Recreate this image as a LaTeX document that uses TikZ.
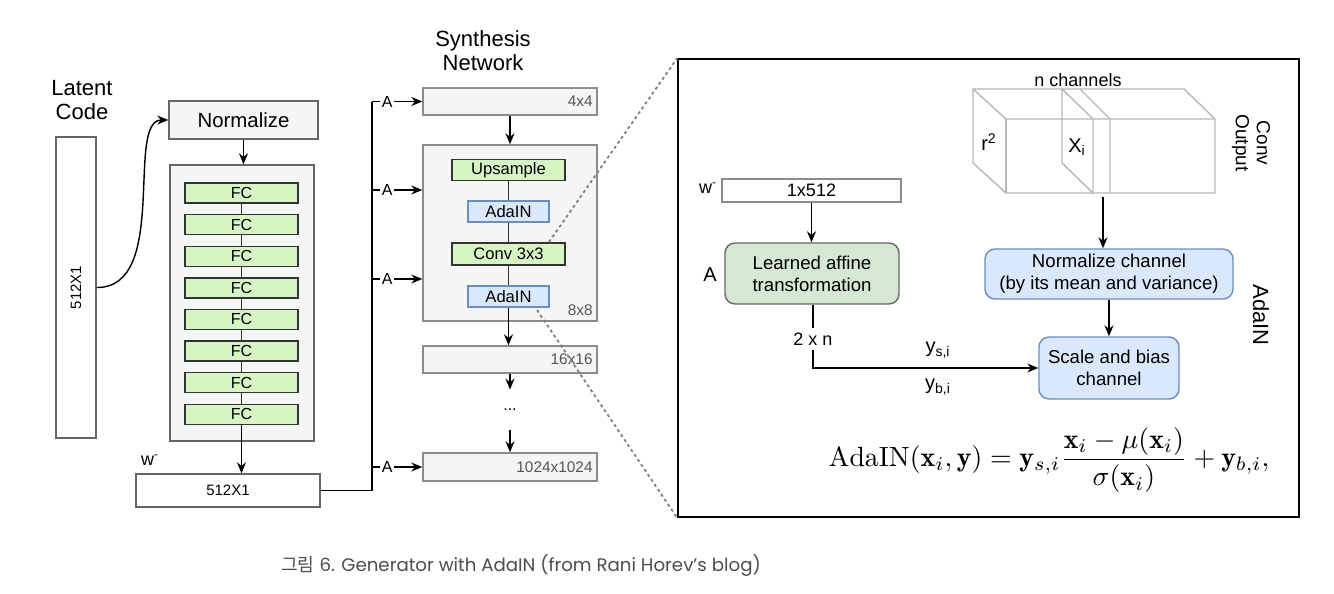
\documentclass[tikz,border=0pt]{standalone}
\usepackage{amsmath,amssymb}
\usepackage{fontspec}
\setsansfont{Liberation Sans}
\newfontfamily\capfont{Poppins}
\newfontfamily\cjk{Noto Sans CJK KR}
\usetikzlibrary{arrows.meta,positioning}
\definecolor{boxgray}{HTML}{F5F5F5}
\definecolor{linegray}{HTML}{666666}
\definecolor{synline}{HTML}{8C8C8C}
\definecolor{darkline}{HTML}{333333}
\definecolor{fcgreen}{HTML}{D5F5C4}
\definecolor{adablue}{HTML}{DAE8FC}
\definecolor{adaline}{HTML}{6C8EBF}
\definecolor{affgreen}{HTML}{D5E8D4}
\definecolor{labelgray}{HTML}{555555}
\definecolor{cubegray}{HTML}{B8B8B8}
\definecolor{capgray}{HTML}{4D4D4D}
\newcommand{\fsz}[2]{\fontsize{#1}{#2}\selectfont}

\begin{document}
\begin{tikzpicture}[x=0.5pt, y=-0.5pt, >={Stealth[length=5.5pt,width=4.5pt]},
  every node/.style={font=\sffamily},
  conn/.style={line width=0.7pt},
  graybox/.style={draw=linegray, fill=boxgray, line width=0.7pt, inner sep=0pt},
  whitebox/.style={draw=linegray, fill=white, line width=0.7pt, inner sep=0pt},
  synbox/.style={draw=synline, fill=boxgray, line width=0.7pt, minimum width=87pt, inner sep=0pt},
  fcbox/.style={draw=darkline, fill=fcgreen, line width=0.7pt, minimum width=56.5pt, minimum height=10pt, inner sep=0pt, font=\sffamily\fsz{8}{9}},
  adabox/.style={draw=adaline, fill=adablue, line width=0.7pt, minimum width=40.5pt, minimum height=10.5pt, inner sep=0pt, font=\sffamily\fsz{8.3}{9}},
  sizelbl/.style={anchor=east, text=labelgray, inner sep=0pt, font=\sffamily\fsz{7.7}{9}},
  alabel/.style={fill=white, inner sep=1pt, font=\sffamily\fsz{8}{9}},
  title/.style={align=center, font=\sffamily\fsz{11}{12}},
  roundbox/.style={line width=0.7pt, rounded corners=5pt, inner sep=0pt, align=center, font=\sffamily\fsz{9.3}{11}},
  zoomline/.style={draw=gray, line width=0.9pt, dash pattern=on 1.5pt off 1.5pt},
  cube/.style={draw=cubegray, line width=0.7pt}]
  \fill[white] (0,0) rectangle (1334,594);
  \useasboundingbox (0,0) rectangle (1334,594);

  % mapping network
  \node[title] (latenttitle) at (82,100) {Latent\\Code};
  \node[whitebox, minimum width=20pt, minimum height=150.5pt] (latent) at (76,287.5) {};
  \node[rotate=90, font=\sffamily\fsz{7.5}{9}] (latenttext) at (latent.center) {512X1};
  \node[graybox, minimum width=74.5pt, minimum height=19pt, font=\sffamily\fsz{10.2}{12}] (norm) at (243.5,120) {Normalize};
  \node[graybox, minimum width=72pt, minimum height=138pt] (mapping) at (242,303) {};
  \foreach \i in {1,...,8}
    \node[fcbox] (fc\i) at (241.5,{161.4+31.6*\i}) {FC};
  \foreach \i [evaluate=\i as \j using int(\i+1)] in {1,...,7}
    \draw[conn, darkline] (fc\i) -- (fc\j);
  \draw[conn, ->] (latent.east) .. controls (170,288) and (125,120) .. (norm.west);
  \draw[conn, ->] (norm.south) -- (norm.south |- mapping.north);
  \node[font=\sffamily\fsz{9}{10}] (wlabel) at (150,460) {w\textsuperscript{-}};
  \node[whitebox, minimum width=92pt, minimum height=16.5pt, font=\sffamily\fsz{7.5}{9}] (wvec) at (228,490.5) {512X1};
  \draw[conn, ->] (fc8.south) -- (fc8.south |- wvec.north);

  % synthesis network
  \node[title] (syntitle) at (483,51) {Synthesis\\Network};
  \node[synbox, minimum height=13.5pt] (s4) at (510,101.5) {};
  \node[synbox, minimum height=88pt] (s8) at (510,233) {};
  \node[synbox, minimum height=13.5pt] (s16) at (510,359.5) {};
  \node[synbox, minimum height=14pt] (s1024) at (510,467) {};
  \node[sizelbl] (l4) at (593,101.5) {4x4};
  \node[sizelbl] (l8) at (593,310) {8x8};
  \node[sizelbl] (l16) at (593,359.5) {16x16};
  \node[sizelbl] (l1024) at (593,467) {1024x1024};
  \node[fcbox, font=\sffamily\fsz{8.3}{9}, minimum height=10.5pt] (up) at (508.5,170) {Upsample};
  \node[adabox] (ada1) at (508.5,211.5) {AdaIN};
  \node[fcbox, font=\sffamily\fsz{8.3}{9}, minimum height=11pt] (conv) at (508.5,254) {Conv 3x3};
  \node[adabox] (ada2) at (508.5,296.5) {AdaIN};
  \draw[conn, darkline] (up) -- (ada1) (ada1) -- (conv) (conv) -- (ada2);
  \draw[conn, ->] (s4.south) -- (s4.south |- s8.north);
  \draw[conn, ->] (ada2.south) -- (ada2.south |- s16.north);
  \node[minimum height=20pt, inner sep=0pt, font=\sffamily\fsz{8}{9}] (dots) at (510,410) {...};
  \draw[conn, ->] (s16.south) -- (dots.north);
  \draw[conn, ->] (dots.south) -- (s1024.north);

  % style vector bus
  \coordinate (bus4) at (372,101.5);
  \coordinate (bus8a) at (372,190);
  \coordinate (bus8b) at (372,279);
  \coordinate (bus1024) at (372,467);
  \coordinate (busend) at (372,490.5);
  \draw[conn] (wvec.east) -- (busend) -- (bus4);
  \foreach \b/\t in {bus4/s4, bus8a/s8, bus8b/s8, bus1024/s1024}
    \draw[conn, ->] (\b) -- (\b -| \t.west) node[alabel, pos=0.3] {A};

  % zoom into AdaIN
  \coordinate (zoomtop) at (549,242);
  \coordinate (zoombot) at (537,310);
  \node[draw, line width=0.8pt, minimum width=310.5pt, minimum height=229pt, inner sep=0pt] (panel) at (988.5,288) {};
  \draw[zoomline] (zoomtop) -- (panel.north west);
  \draw[zoomline] (zoombot) -- (panel.south west);

  \node[font=\sffamily\fsz{9}{10}] (wlabel2) at (708,188) {w\textsuperscript{-}};
  \node[whitebox, draw=synline, minimum width=89.5pt, minimum height=11.5pt, font=\sffamily\fsz{9}{10}] (wrow) at (811.5,190.5) {1x512};
  \node[roundbox, draw=linegray, fill=affgreen, minimum width=87pt, minimum height=30.5pt] (affine) at (812,273.5) {Learned affine\\transformation};
  \node[font=\sffamily\fsz{10}{11}] (alab) at (710,275) {A};
  \draw[conn, ->] (wrow.south) -- (wrow.south |- affine.north);
  \node[inner sep=2pt, font=\sffamily\fsz{9}{10}] (twon) at (813,339) {2 x n};
  \node[roundbox, draw=adaline, fill=adablue, minimum width=124pt, minimum height=25pt] (normch) at (1109,274) {Normalize channel\\(by its mean and variance)};
  \node[roundbox, draw=adaline, fill=adablue, minimum width=70pt, minimum height=31pt] (scale) at (1109,368) {Scale and bias\\channel};
  \draw[conn] (affine.south -| twon) -- (twon.north);
  \draw[conn, ->] (twon.south) |- (scale.west);
  \node[font=\sffamily\fsz{10}{11}] (ys) at (938,350) {y\textsubscript{s,i}};
  \node[font=\sffamily\fsz{10}{11}] (yb) at (938,387) {y\textsubscript{b,i}};
  \draw[conn, ->] (normch.south) -- (scale.north);
  \node[rotate=-90, font=\sffamily\fsz{11}{12}] (adatitle) at (1261,315) {AdaIN};

  % conv output tensor
  \draw[cube] (973,89) -- (1184,89) -- (1215,119) -- (1215,193) -- (1006,193) -- (973,163) -- cycle;
  \draw[cube] (973,89) -- (1006,119) -- (1215,119);
  \draw[cube] (1006,119) -- (1006,193);
  \draw[cube] (1062,89) -- (1093,119) -- (1093,193) -- (1062,163) -- cycle;
  \draw[cube] (1080,89) -- (1110,119) -- (1110,193);
  \node[font=\sffamily\fsz{9}{10}] (nch) at (1078,80) {n channels};
  \node[font=\sffamily\fsz{10}{11}] (rsq) at (989,142) {r\textsuperscript{2}};
  \node[font=\sffamily\fsz{10}{11}] (xi) at (1077,147) {X\textsubscript{i}};
  \node[rotate=-90, align=center, font=\sffamily\fsz{9.5}{10.5}] (convout) at (1251,143) {Conv\\Output};
  \coordinate (cubebot) at (1103,197);
  \draw[conn, ->] (cubebot) -- (cubebot |- normch.north);

  \node[scale=1.39] (formula) at (1049,460) {$\mathrm{AdaIN}(\mathbf{x}_i,\mathbf{y})=\mathbf{y}_{s,i}\dfrac{\mathbf{x}_i-\mu(\mathbf{x}_i)}{\sigma(\mathbf{x}_i)}+\mathbf{y}_{b,i},$};

  \node[text=capgray, font=\capfont\fsz{9.1}{10}] (caption) at (521,565) {{\cjk 그림} 6. Generator with AdaIN (from Rani Horev’s blog)};
\end{tikzpicture}
\end{document}
